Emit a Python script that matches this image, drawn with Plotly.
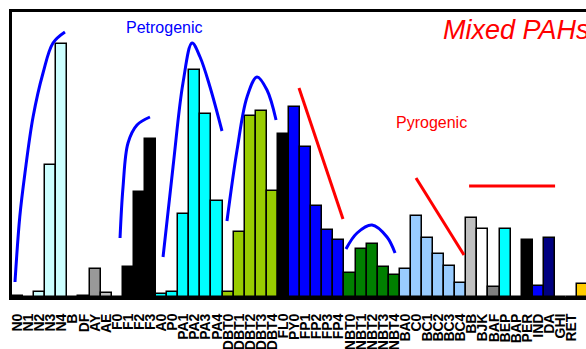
import plotly.graph_objects as go

# ---- data -------------------------------------------------------------
categories = ["N0", "N1", "N2", "N3", "N4", "B", "DF", "AY", "AE",
              "F0", "F1", "F2", "F3", "A0", "P0", "PA1", "PA2", "PA3", "PA4",
              "DBT0", "DBT1", "DBT2", "DBT3", "DBT4", "FL0", "PY0",
              "FP1", "FP2", "FP3", "FP4", "NBT0", "NBT1", "NBT2", "NBT3", "NBT4",
              "BA0", "C0", "BC1", "BC2", "BC3", "BC4", "BB", "BJK", "BAF",
              "BEP", "BAP", "PER", "IND", "DA", "GHI", "RET", "PER2"]
values = [1.5, 0, 5, 132, 253, 0, 1, 28, 4,
          0, 30, 105, 158, 3, 5, 83, 227, 183, 96,
          5, 65, 181, 186, 106, 163, 190,
          150, 91, 67, 57, 24, 48, 53, 30, 22,
          28, 81, 59, 43, 31, 14, 79, 68, 10,
          68, 0, 57, 11, 59, 0, 0, 13]

# guide curves (category index, value)
petro_curves = [
    ([-0.23, 0.2, 0.67, 1.4, 2.3, 3.2, 4.28], [15, 80, 124, 180, 224, 254, 265]),
    ([9.25, 9.52, 9.97, 10.78, 11.95], [59, 110, 154, 172, 180]),
    ([13.13, 14.03, 14.93, 15.75, 16.47, 17.37, 18.45], [40, 130, 214, 254, 240, 210, 166]),
    ([18.9, 19.81, 20.71, 21.61, 22.51, 23.33], [76, 147, 200, 220, 207, 177]),
    ([29.64, 30.64, 31.99, 33.34, 34.07], [48, 64, 72, 60, 44]),
]
pyro_lines = [
    ([25.4, 29.37], [209, 78]),
    ([35.96, 40.29], [119, 42]),
    ([40.75, 48.51], [111, 111]),
]

# ---- styles -----------------------------------------------------------
LC = "#CCFFFF"; CY = "#00FFFF"; YG = "#99CC00"; BL = "#0000FF"
GR = "#008000"; LB = "#99CCFF"; BK = "#000000"
colors = ([LC] * 5 + ["#FFFFFF", "#C0C0C0", "#999999", "#C0C0C0"] +
          [BK] * 4 + [CY] * 6 + [YG] * 5 + [BK] + [BL] * 5 + [GR] * 5 +
          [LB] * 6 + ["#C0C0C0", "#FFFFFF", "#808080", CY, "#FFFFFF", BK,
                      BL, "#000080", "#FFFFFF", "#FFFFFF", "#FFCC00"])

x = list(range(len(categories)))

fig = go.Figure()
fig.add_trace(go.Bar(x=x, y=values, marker=dict(color=colors,
                     line=dict(color="black", width=1.5)),
                     width=1.0, showlegend=False, hoverinfo="skip"))

for xs, ys in petro_curves:
    fig.add_trace(go.Scatter(x=xs, y=ys, mode="lines",
                             line=dict(color="#0000FF", width=3, shape="spline", smoothing=1.0),
                             showlegend=False, hoverinfo="skip"))
for xs, ys in pyro_lines:
    fig.add_trace(go.Scatter(x=xs, y=ys, mode="lines",
                             line=dict(color="#FF0000", width=3),
                             showlegend=False, hoverinfo="skip"))

fig.add_annotation(x=13.22, y=270, xref="x", yref="y", text="Petrogenic",
                   showarrow=False, font=dict(family="Liberation Sans, Arial", size=16, color="#0000FF"))
fig.add_annotation(x=37.36, y=175, xref="x", yref="y", text="Pyrogenic",
                   showarrow=False, font=dict(family="Liberation Sans, Arial", size=16, color="#FF0000"))
fig.add_annotation(x=38.2, y=267, xref="x", yref="y", text="<i>Mixed PAHs</i>",
                   xanchor="left", showarrow=False,
                   font=dict(family="Liberation Sans, Arial", size=27, color="#FF0000"))

fig.update_layout(
    width=586, height=349,
    margin=dict(l=12, r=0, t=12, b=52, autoexpand=False),
    plot_bgcolor="white", paper_bgcolor="white",
    bargap=0,
    xaxis=dict(range=[-0.5, 51.3], tickmode="array", tickvals=x, ticktext=categories,
               tickangle=-90, showgrid=False, zeroline=False, automargin=False,
               showline=True, linecolor="black", linewidth=3, mirror=True,
               ticks="", ticklabelstandoff=8,
               tickfont=dict(family="Liberation Sans, Arial", size=14, color="black", weight="bold")),
    yaxis=dict(range=[0, 285], showgrid=False, zeroline=False, showticklabels=False,
               automargin=False,
               showline=True, linecolor="black", linewidth=3, mirror=False, ticks=""),
)

# remove the browser's default page margin / scrollbars so the figure fills the window
fig.write_html("out.html", config={"displayModeBar": False},
               post_script="document.body.style.margin='0';document.body.style.overflow='hidden';")
